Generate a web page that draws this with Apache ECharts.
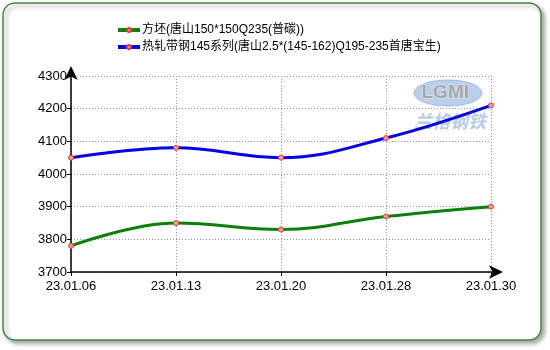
<!DOCTYPE html>
<html>
<head>
<meta charset="utf-8">
<script src="https://cdn.jsdelivr.net/npm/echarts@6/dist/echarts.min.js"></script>
<style>html,body{margin:0;padding:0;background:#fff;}#c{width:550px;height:350px;}</style>
</head>
<body>
<div id="c"></div>
<script>
var categories = ['23.01.06', '23.01.13', '23.01.20', '23.01.28', '23.01.30'];
var seriesNames = ['方坯(唐山150*150Q235(普碳))', '热轧带钢145系列(唐山2.5*(145-162)Q195-235首唐宝生)'];
var billet = [3780, 3850, 3830, 3870, 3900];
var strip = [4050, 4080, 4050, 4110, 4210];
var yTicks = [3700, 3800, 3900, 4000, 4100, 4200, 4300];

var chart = echarts.init(document.getElementById('c'));
var font = 'Arial, "Liberation Sans", "Noto Sans CJK SC", sans-serif';
var markerStyle = { color: '#ff9a9a', borderColor: '#e23a3a', borderWidth: 1 };
chart.setOption({
  animation: false,
  textStyle: { fontFamily: font },
  graphic: [
    { type: 'rect', z: -10, shape: { x: 3, y: 3, width: 538, height: 337, r: 12 },
      style: { fill: '#fff', stroke: '#3d8b3d', lineWidth: 1.5, shadowBlur: 4, shadowOffsetX: 3, shadowOffsetY: 3, shadowColor: 'rgba(0,0,0,0.35)' } },
    { type: 'ellipse', z: -5, shape: { cx: 448, cy: 93, rx: 34, ry: 13 },
      style: { fill: '#a9c3e6', stroke: '#8fb0dc', lineWidth: 1, opacity: 0.8 } },
    { type: 'text', z: -4, left: 421, top: 83, style: { text: 'LGMI', fill: '#a0a0a0', stroke: '#eeeeee', lineWidth: 1, font: 'bold 19px Arial', opacity: 0.9 } },
    { type: 'text', z: -4, left: 414, top: 112, style: { text: '兰格钢铁', fill: '#a9bde0', font: 'italic bold 18px "Noto Sans CJK SC"', opacity: 0.8 } }
  ],
  legend: {
    left: 111, top: 19, orient: 'vertical', itemGap: 5, itemWidth: 22, itemHeight: 5,
    lineStyle: { width: 4 },
    textStyle: { fontSize: 12, color: '#000', fontFamily: font, padding: [0, 0, 0, -3] },
    data: seriesNames
  },
  grid: { left: 71, right: 59, top: 76, bottom: 78, containLabel: false },
  xAxis: {
    type: 'category', data: categories, boundaryGap: false,
    axisLine: { lineStyle: { color: '#000', width: 1.5 }, symbol: ['none', 'arrow'], symbolSize: [10, 14], symbolOffset: [0, 12] },
    axisTick: { show: true, length: 4, alignWithLabel: true, lineStyle: { color: '#000' } },
    axisLabel: { color: '#000', fontSize: 13, margin: 8, fontFamily: font },
    splitLine: { show: true, lineStyle: { color: '#999', type: [1, 2], width: 1 } }
  },
  yAxis: {
    type: 'value', min: yTicks[0], max: yTicks[yTicks.length - 1], interval: 100,
    axisLine: { show: true, lineStyle: { color: '#000', width: 1.5 }, symbol: ['none', 'arrow'], symbolSize: [10, 14], symbolOffset: [0, 10] },
    axisTick: { show: true, length: 4, lineStyle: { color: '#000' } },
    axisLabel: { color: '#000', fontSize: 13, margin: 4, fontFamily: font, formatter: function (v) { return String(v); } },
    splitLine: { show: true, lineStyle: { color: '#999', type: [1, 2], width: 1 } }
  },
  series: [
    { name: seriesNames[0], type: 'line', data: billet, smooth: 0.4, symbol: 'circle', symbolSize: 5,
      lineStyle: { color: '#0a7f0a', width: 3 }, itemStyle: markerStyle, color: '#0a7f0a' },
    { name: seriesNames[1], type: 'line', data: strip, smooth: 0.4, symbol: 'circle', symbolSize: 5,
      lineStyle: { color: '#0000ee', width: 3 }, itemStyle: markerStyle, color: '#0000ee' }
  ]
});
</script>
</body>
</html>
